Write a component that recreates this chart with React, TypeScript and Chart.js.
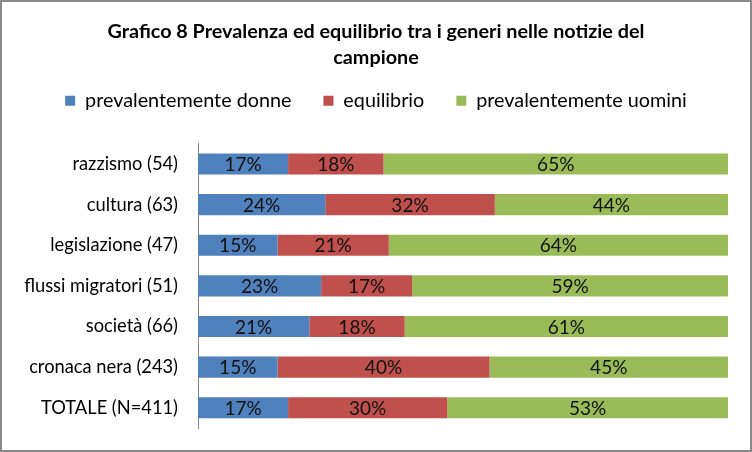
import React, { useEffect, useRef } from "react";
import { Chart, registerables } from "chart.js";

Chart.register(...registerables);

const categories = [
  "razzismo (54)",
  "cultura (63)",
  "legislazione (47)",
  "flussi migratori (51)",
  "società (66)",
  "cronaca nera (243)",
  "TOTALE (N=411)",
];
const prevDonne = [17, 24, 15, 23, 21, 15, 17];
const equilibrio = [18, 32, 21, 17, 18, 40, 30];
const prevUomini = [65, 44, 64, 59, 61, 45, 53];

const seriesNames = ["prevalentemente donne", "equilibrio", "prevalentemente uomini"];
const seriesColors = ["#4F81BD", "#C0504D", "#9BBB59"];
const titleLines = [
  "Grafico 8 Prevalenza ed equilibrio tra i generi nelle notizie del",
  "campione",
];

const FONT = "Lato, 'Open Sans', sans-serif";

export default function App() {
  const ref = useRef<HTMLCanvasElement | null>(null);

  useEffect(() => {
    if (!ref.current) return;
    const raw = [prevDonne, equilibrio, prevUomini];
    const totals = categories.map((_, i) => raw.reduce((s, a) => s + a[i], 0));
    // 100% stacked: each row normalised to its total
    const datasets = raw.map((arr, k) => ({
      label: seriesNames[k],
      data: arr.map((v, i) => (v / totals[i]) * 100),
      rawValues: arr,
      backgroundColor: seriesColors[k],
      borderWidth: 0,
      categoryPercentage: 0.52,
      barPercentage: 1,
    }));

    const dataLabels = {
      id: "dataLabels",
      afterDatasetsDraw(chart: any) {
        const ctx = chart.ctx;
        ctx.save();
        ctx.font = `19px ${FONT}`;
        ctx.fillStyle = "#111";
        ctx.textAlign = "center";
        ctx.textBaseline = "middle";
        chart.data.datasets.forEach((ds: any, di: number) => {
          const meta = chart.getDatasetMeta(di);
          meta.data.forEach((el: any, i: number) => {
            const p = el.getProps(["x", "y", "base"], true);
            ctx.fillText(ds.rawValues[i] + "%", (p.x + p.base) / 2, p.y + 1);
          });
        });
        ctx.restore();
      },
    };

    const legendSpace = {
      id: "legendSpace",
      beforeInit(chart: any) {
        const lg = chart.legend;
        if (!lg) return;
        const orig = lg.fit;
        lg.fit = function () {
          orig.bind(lg)();
          this.height += 23;
        };
      },
    };

    const chart = new Chart(ref.current, {
      type: "bar",
      data: { labels: categories, datasets: datasets as any },
      plugins: [dataLabels, legendSpace],
      options: {
        indexAxis: "y",
        animation: false,
        responsive: false,
        layout: { padding: { left: 22, right: 22, top: 0, bottom: 22 } },
        scales: {
          x: { stacked: true, min: 0, max: 100, display: false },
          y: {
            stacked: true,
            grid: {
              display: true,
              drawOnChartArea: false,
              drawTicks: true,
              tickLength: 20,
              tickColor: "rgba(0,0,0,0)",
            },
            border: { display: true, color: "#868686", width: 1 },
            ticks: {
              font: { family: FONT, size: 18.3 },
              color: "#000",
              padding: 0,
            },
            afterFit(scale: any) {
              scale.width = 174;
            },
          },
        },
        plugins: {
          title: {
            display: true,
            text: titleLines,
            font: { family: FONT, size: 19.8, weight: "bold", lineHeight: 1.31 },
            color: "#000",
            padding: { top: 17, bottom: -12 },
          },
          legend: {
            display: true,
            position: "top",
            labels: {
              boxWidth: 10,
              boxHeight: 10,
              padding: 32,
              font: { family: FONT, size: 19.8 },
              color: "#000",
            },
          },
          tooltip: { enabled: false },
        },
      },
    });
    return () => chart.destroy();
  }, []);

  return (
    <div
      style={{
        position: "fixed",
        left: 0,
        top: 0,
        width: 752,
        height: 452,
        boxSizing: "border-box",
        border: "2px solid #8a8a8a",
        background: "#fff",
      }}
    >
      <canvas ref={ref} width={748} height={448} style={{ display: "block" }} />
    </div>
  );
}
